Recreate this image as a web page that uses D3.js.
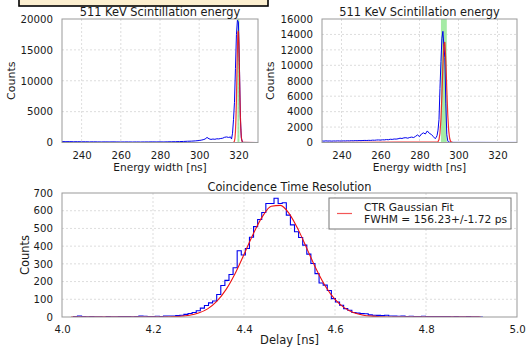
<!DOCTYPE html>
<html><head><meta charset="utf-8">
<script src="https://cdn.jsdelivr.net/npm/d3@7"></script>
<style>
html,body{margin:0;padding:0;background:#fff;}
svg{display:block;font-family:"DejaVu Sans",sans-serif;}
</style></head>
<body><svg id="c" width="526" height="348"></svg>
<script>
// ---------- DATA ----------
// Top-left: 511 keV spectrum (energy width in ns vs counts)
const leftSpecX = [230,232,234,236,238,240,242,244,246,248,250,252,254,256,258,260,262,264,266,268,270,272,274,276,278,280,282,284,286,288,290,292,294,296,298,300,301,302,303,304,305,306,307,308,309,310,311,312,313,314,315,316,316.5,317,317.5,318,318.5,319,319.5,320,320.5,321,321.5,322,322.5,323,326,330];
const leftSpecY = [150,130,140,120,130,110,120,100,110,100,90,100,90,100,90,80,90,90,80,90,80,90,90,100,90,100,90,110,120,130,150,170,200,220,260,320,380,450,560,820,600,500,560,520,600,580,650,700,850,900,820,900,560,1500,3700,6500,12000,17500,19800,19500,13000,4000,700,120,30,10,5,5];
const leftFitX = [230,317.5,317.75,318,318.25,318.5,318.75,319,319.25,319.5,319.75,320,320.25,320.5,320.75,321,321.25,321.5,321.75,322,322.25,322.5,330];
const leftFitY = [0,20,77,256,730,1800,3830,7010,11100,15150,17820,18080,15830,11950,7780,4370,2120,885,320,99,27,7,0];
const leftWindow = [319.5,320.5];

// Top-right: second crystal spectrum
const rightSpecX = [230,231,232,233,234,235,236,237,238,239,240,241,242,243,244,245,246,247,248,249,250,251,252,253,254,255,256,257,258,259,260,261,262,263,264,265,266,267,268,269,270,271,272,273,274,275,276,277,278,279,280,281,282,283,284,285,286,287,288,288.5,289,289.5,290,290.5,291,291.5,292,292.5,293,293.5,294,294.5,295,296,300,310,320,330];
const rightSpecY = [200,180,210,190,200,180,200,190,210,200,190,210,200,220,210,230,220,240,230,250,240,260,270,260,280,270,300,290,320,330,310,350,340,380,360,420,400,450,440,480,560,520,600,620,560,650,700,640,800,980,760,1100,1250,1100,1500,1200,1050,800,500,620,900,1600,3000,7000,10500,13500,14400,12500,11000,5000,1000,200,50,20,15,15,10,10];
const rightFitX = [230,289.5,290,290.5,291,291.5,292,292.5,293,293.5,294,294.5,295,295.5,296,296.5,297,330];
const rightFitY = [0,95,379,1200,3050,6160,9910,12720,13010,10610,6900,3570,1480,486,127,27,5,0];
const rightWindow = [291.0,294.0];

const energyTicks = [240,260,280,300,320];
const leftYTicks = [0,5000,10000,15000,20000];
const rightYTicks = [0,2000,4000,6000,8000,10000,12000,14000,16000];

// Bottom: coincidence delay histogram (bins of 0.009 ns starting at 4.025 ns)
const ctrBinStart = 4.025, ctrBinWidth = 0.009;
const ctrCounts = [2,5,3,1,2,1,1,0,2,1,1,2,3,2,1,2,5,4,3,2,4,3,5,6,5,8,10,15,20,25,35,50,65,80,90,127,178,207,240,278,374,350,387,450,510,550,590,641,641,670,641,645,575,520,481,449,406,355,302,245,192,180,150,104,85,66,47,38,25,22,19,18,12,10,9,8,10,6,5,4,5,3,4,3,3,4,2,3,2,2,3,2,1,2,1,1,2,1,1,0];
const ctrFitX = [4.02,4.10,4.20,4.24,4.28,4.30,4.32,4.34,4.36,4.38,4.40,4.42,4.44,4.46,4.48,4.50,4.52,4.54,4.56,4.58,4.60,4.62,4.64,4.66,4.68,4.70,4.74,4.80,4.92];
const ctrFitY = [0,0,0.1,1.4,9.7,22,46,88,153,243,353,467,565,625,630,581,489,376,264,169,99,53,26,11.6,4.7,1.8,0.2,0,0];
const delayTicks = [4.0,4.2,4.4,4.6,4.8,5.0];
const ctrYTicks = [0,100,200,300,400,500,600,700];
const legendLines = ["CTR Gaussian Fit","FWHM = 156.23+/-1.72 ps"];

// ---------- DRAW ----------
const svg = d3.select("#c");
const BLUE = "#0000ee", RED = "#ee1111", GREEN = "#8ee68e";
const FRAME = "#999", GRID = "#d4d4d4", TXT = "#1a1a1a";

// header box, mostly outside the picture
svg.append("rect").attr("x",19).attr("y",-20).attr("width",249).attr("height",26)
  .attr("fill","#fcefcf").attr("stroke","#000").attr("stroke-width",1.6);

function panel(o){
  const g = svg.append("g");
  const x = d3.scaleLinear().domain(o.xd).range([o.x0,o.x1]);
  const y = d3.scaleLinear().domain(o.yd).range([o.y1,o.y0]);
  const id = "clip"+o.id;
  svg.append("clipPath").attr("id",id).append("rect")
    .attr("x",o.x0).attr("y",o.y0-1).attr("width",o.x1-o.x0).attr("height",o.y1-o.y0+1);
  g.append("g").selectAll("line").data(o.xt.filter(d=>d>o.xd[0]&&d<o.xd[1])).join("line")
    .attr("x1",d=>x(d)).attr("x2",d=>x(d)).attr("y1",o.y0).attr("y2",o.y1)
    .attr("stroke",GRID).attr("stroke-dasharray","2,2").attr("stroke-width",0.8);
  g.append("g").selectAll("line").data(o.yt.filter(d=>d>o.yd[0]&&d<o.yd[1])).join("line")
    .attr("y1",d=>y(d)).attr("y2",d=>y(d)).attr("x1",o.x0).attr("x2",o.x1)
    .attr("stroke",GRID).attr("stroke-dasharray","2,2").attr("stroke-width",0.8);
  const ax = g.append("g").attr("transform",`translate(0,${o.y1})`)
    .call(d3.axisBottom(x).tickValues(o.xt).tickSize(0).tickPadding(o.xpad).tickFormat(o.xf));
  const ay = g.append("g").attr("transform",`translate(${o.x0},0)`)
    .call(d3.axisLeft(y).tickValues(o.yt).tickSize(0).tickPadding(9).tickFormat(d3.format("d")));
  [ax,ay].forEach(a=>{a.select(".domain").remove();
    a.selectAll("text").attr("font-size",10.2).attr("fill",TXT).attr("font-family","DejaVu Sans");});
  const plot = g.append("g").attr("clip-path",`url(#${id})`);
  o.draw(plot,x,y);
  g.append("rect").attr("x",o.x0).attr("y",o.y0).attr("width",o.x1-o.x0).attr("height",o.y1-o.y0)
    .attr("fill","none").attr("stroke",FRAME).attr("stroke-width",1);
  g.append("text").attr("x",(o.x0+o.x1)/2).attr("y",o.tY).attr("text-anchor","middle")
    .attr("font-size",11.4).attr("fill",TXT).text(o.title);
  g.append("text").attr("x",(o.x0+o.x1)/2).attr("y",o.xlY).attr("text-anchor","middle")
    .attr("font-size",o.xlFs).attr("fill",TXT).text(o.xlabel);
  g.append("text").attr("transform",`translate(${o.ylX},${(o.y0+o.y1)/2}) rotate(-90)`)
    .attr("text-anchor","middle").attr("font-size",o.ylFs).attr("fill",TXT).text("Counts");
  return {x,y,g};
}

function spectrumDraw(specX,specY,fitX,fitY,win){
  return (p,x,y)=>{
    p.append("rect").attr("x",x(win[0])).attr("width",x(win[1])-x(win[0]))
      .attr("y",y.range()[1]).attr("height",y.range()[0]-y.range()[1])
      .attr("fill",GREEN).attr("opacity",0.8);
    const line = d3.line().x(d=>x(d[0])).y(d=>y(d[1]));
    p.append("path").attr("d",line(d3.zip(specX,specY))).attr("fill","none")
      .attr("stroke",BLUE).attr("stroke-width",1);
    p.append("path").attr("d",line(d3.zip(fitX,fitY))).attr("fill","none")
      .attr("stroke",RED).attr("stroke-width",1.2).attr("opacity",0.85);
  };
}

panel({id:"tl",x0:62,x1:258,y0:19,y1:142.5,xd:[230,330],yd:[0,20000],xt:energyTicks,yt:leftYTicks,
  xpad:9,xf:d3.format("d"),title:"511 KeV Scintillation energy",tY:16,xlabel:"Energy width [ns]",xlY:170.5,xlFs:10.6,ylX:15,ylFs:11,
  draw:spectrumDraw(leftSpecX,leftSpecY,leftFitX,leftFitY,leftWindow)});
panel({id:"tr",x0:322,x1:517,y0:19,y1:142.5,xd:[230,330],yd:[0,16000],xt:energyTicks,yt:rightYTicks,
  xpad:9,xf:d3.format("d"),title:"511 KeV Scintillation energy",tY:16,xlabel:"Energy width [ns]",xlY:170.5,xlFs:10.6,ylX:274,ylFs:11,
  draw:spectrumDraw(rightSpecX,rightSpecY,rightFitX,rightFitY,rightWindow)});

panel({id:"b",x0:62,x1:517,y0:193,y1:317,xd:[4.0,5.0],yd:[0,700],xt:delayTicks,yt:ctrYTicks,
  xpad:9,xf:d3.format(".1f"),title:"Coincidence Time Resolution",tY:191,xlabel:"Delay [ns]",xlY:344,xlFs:11.5,ylX:29,ylFs:11.5,
  draw:(p,x,y)=>{
    const edges = ctrCounts.map((c,i)=>[ctrBinStart+i*ctrBinWidth,c]);
    edges.push([ctrBinStart+ctrCounts.length*ctrBinWidth, ctrCounts[ctrCounts.length-1]]);
    const pts = [[ctrBinStart,0]].concat(edges).concat([[edges[edges.length-1][0],0]]);
    p.append("path").attr("d",d3.line().x(d=>x(d[0])).y(d=>y(d[1])).curve(d3.curveStepAfter)(pts))
      .attr("fill","none").attr("stroke",BLUE).attr("stroke-width",1.1);
    p.append("path").attr("d",d3.line().x(d=>x(d[0])).y(d=>y(d[1])).curve(d3.curveMonotoneX)(d3.zip(ctrFitX,ctrFitY)))
      .attr("fill","none").attr("stroke",RED).attr("stroke-width",1.1);
  }});

const lg = svg.append("g");
lg.append("rect").attr("x",329).attr("y",198).attr("width",182).attr("height",31)
  .attr("fill","#fff").attr("stroke","#777").attr("stroke-width",1);
lg.append("line").attr("x1",337).attr("x2",352).attr("y1",213.5).attr("y2",213.5)
  .attr("stroke",RED).attr("stroke-width",1.2).attr("opacity",0.7);
lg.selectAll("text.l").data(legendLines).join("text").attr("class","l")
  .attr("x",364).attr("y",(d,i)=>211+i*11.7).attr("font-size",10.7).attr("fill",TXT).text(d=>d);
</script></body></html>
